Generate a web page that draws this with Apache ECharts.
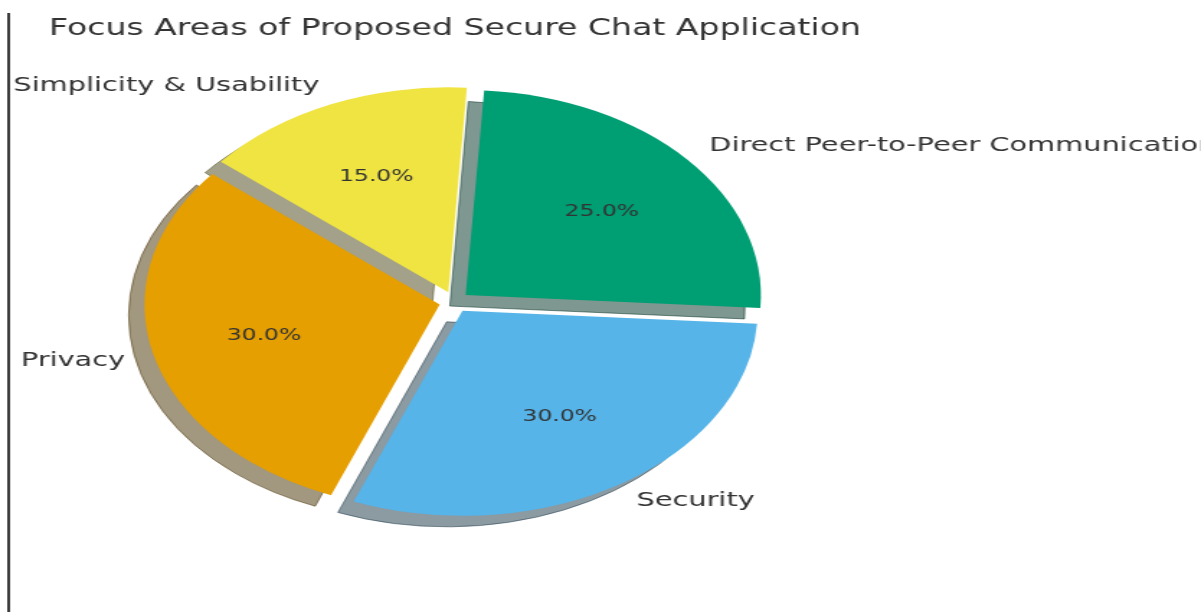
<!DOCTYPE html>
<html>
<head>
<meta charset="utf-8">
<script src="https://cdn.jsdelivr.net/npm/echarts@6/dist/echarts.min.js"></script>
<style>
  html, body { margin: 0; padding: 0; background: #fff; overflow: hidden; }
  #wrap { width: 1201px; height: 612px; overflow: hidden; position: relative; }
  /* the reference figure is stretched horizontally; reproduce that stretch */
  #chart { width: 834px; height: 612px; transform: scaleX(1.44); transform-origin: 0 0; }
</style>
</head>
<body>
<div id="wrap"><div id="chart"></div></div>
<script>
// ---- data ----
const titleText = 'Focus Areas of Proposed Secure Chat Application';
const categories = ['Direct Peer-to-Peer Communication', 'Simplicity & Usability', 'Privacy', 'Security'];
const shares = [25, 15, 30, 30];
const sliceColors = ['#009E73', '#F0E442', '#E69F00', '#56B4E9'];

// ---- layout / style ----
const R = 205;
const CX = 315.5, CY = 302;
const EXPLODE = 10.5;
const SH_DX = -11, SH_DY = 11;
const START = -3.6;
const FONT = 'DejaVu Sans';

function shadowColor(hex) {
  const n = parseInt(hex.slice(1), 16);
  const r = Math.round(((n >> 16) & 255) * 0.3);
  const g = Math.round(((n >> 8) & 255) * 0.3);
  const b = Math.round((n & 255) * 0.3);
  return 'rgba(' + r + ',' + g + ',' + b + ',0.5)';
}

const total = shares.reduce((a, b) => a + b, 0);

const shadowData = categories.map((c, i) => ({
  name: c, value: shares[i], selected: true,
  itemStyle: { color: shadowColor(sliceColors[i]), borderColor: shadowColor(sliceColors[i]), borderWidth: 1 }
}));
const sliceData = categories.map((c, i) => ({
  name: c, value: shares[i], selected: true,
  itemStyle: { color: sliceColors[i], borderWidth: 0 }
}));
const pctData = categories.map((c, i) => ({
  name: c, value: shares[i], selected: true,
  itemStyle: { color: 'rgba(0,0,0,0)', borderWidth: 0 }
}));

const common = {
  type: 'pie',
  startAngle: START,
  clockwise: false,
  selectedMode: 'multiple',
  selectedOffset: EXPLODE,
  avoidLabelOverlap: false,
  animation: false,
  emphasis: { disabled: true },
  select: { itemStyle: {} },
  silent: true
};

const chart = echarts.init(document.getElementById('chart'), null, { renderer: 'canvas' });
chart.setOption({
  backgroundColor: '#ffffff',
  animation: false,
  title: {
    text: titleText,
    left: 29,
    top: 13,
    textStyle: { fontFamily: FONT, fontSize: 23, fontWeight: 'normal', color: '#333333' }
  },
  graphic: [{
    type: 'line',
    shape: { x1: 6, y1: 13, x2: 6, y2: 612 },
    style: { stroke: '#3a3a3a', lineWidth: 2 },
    silent: true
  }],
  series: [
    Object.assign({}, common, {
      name: 'shadow',
      center: [CX + SH_DX, CY + SH_DY],
      radius: [0, R],
      label: { show: false },
      labelLine: { show: false },
      data: shadowData,
      z: 1
    }),
    Object.assign({}, common, {
      name: 'slices',
      center: [CX, CY],
      radius: [0, R],
      label: {
        show: true,
        position: 'outside',
        formatter: '{b}',
        fontFamily: FONT,
        fontSize: 20,
        color: '#333333',
        distanceToLabelLine: 0
      },
      labelLine: { show: false, length: R * 0.1, length2: 0 },
      data: sliceData,
      z: 2
    }),
    Object.assign({}, common, {
      name: 'pct',
      center: [CX, CY],
      radius: [R * 0.6 - 1, R * 0.6 + 1],
      label: {
        show: true,
        position: 'inside',
        formatter: p => (p.value / total * 100).toFixed(1) + '%',
        fontFamily: FONT,
        fontSize: 16.3,
        color: '#333333'
      },
      labelLine: { show: false },
      data: pctData,
      z: 3
    })
  ]
});
</script>
</body>
</html>
